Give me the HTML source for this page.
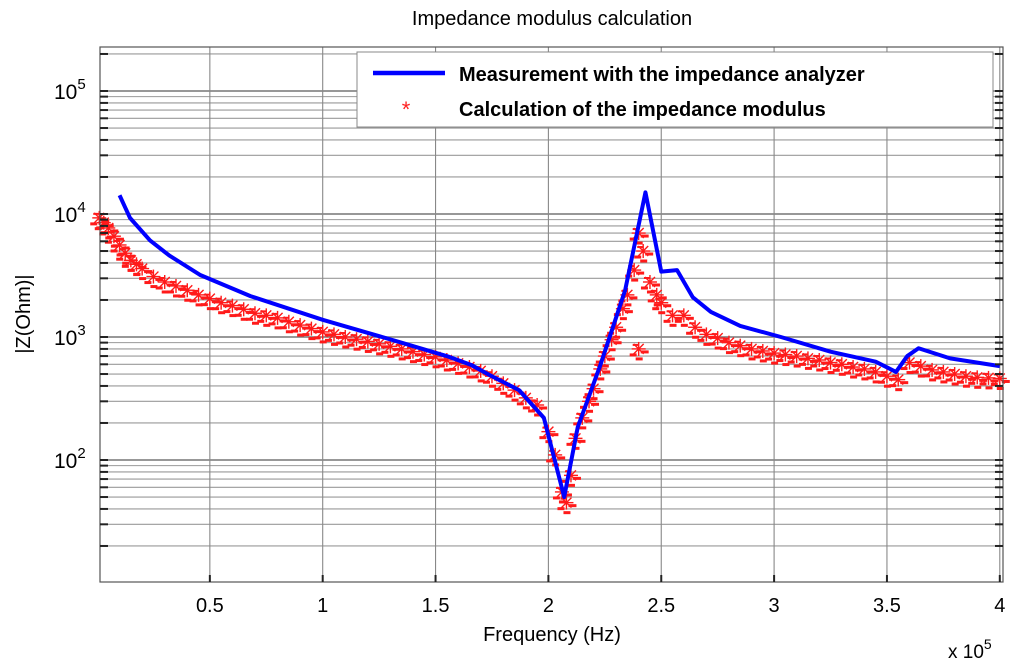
<!DOCTYPE html>
<html><head><meta charset="utf-8"><style>
body{margin:0;background:#fff;}
svg{display:block;font-family:"Liberation Sans",Arial,sans-serif;}
</style></head><body>
<svg id="chart" width="1024" height="667" viewBox="0 0 1024 667" xmlns="http://www.w3.org/2000/svg">
<text x="552" y="25" font-size="20" text-anchor="middle">Impedance modulus calculation</text>
<g id="grid"></g>
<g id="marks"></g>
<rect x="100" y="47" width="903" height="535" fill="none" stroke="#555" stroke-width="1.2"/>
<g id="ticks"></g>
<text x="552" y="641" font-size="20" text-anchor="middle">Frequency (Hz)</text>
<text x="948" y="658" font-size="19">x 10<tspan dy="-9" font-size="14">5</tspan></text>
<text transform="translate(30,314) rotate(-90)" font-size="20" text-anchor="middle">|Z(Ohm)|</text>
<g>
<rect x="357" y="52" width="636" height="75" fill="#fff" stroke="#888"/>
<line x1="373" y1="73" x2="445" y2="73" stroke="#0000ff" stroke-width="4.5"/>
<text x="459" y="81" font-size="20" font-weight="bold">Measurement with the impedance analyzer</text>
<text x="406" y="117" font-size="22" fill="#ff2020" text-anchor="middle">*</text>
<text x="459" y="116" font-size="20" font-weight="bold">Calculation of the impedance modulus</text>
</g>
</svg>
<script>
const blueX=[0.10,0.146,0.235,0.32,0.456,0.68,1.0,1.34,1.56,1.66,1.74,1.87,1.98,2.07,2.13,2.23,2.34,2.43,2.50,2.57,2.64,2.72,2.85,3.03,3.25,3.45,3.54,3.59,3.64,3.78,4.0];
const blueY=[14200,9300,6100,4600,3200,2150,1380,910,690,590,490,370,220,50,185,590,2400,15000,3400,3500,2100,1600,1230,1000,760,630,520,700,810,670,580];
const redX=[0.01,0.03,0.05,0.075,0.1,0.125,0.15,0.175,0.2,0.25,0.3,0.35,0.4,0.45,0.5,0.55,0.6,0.65,0.7,0.75,0.8,0.85,0.9,0.95,1.0,1.05,1.1,1.15,1.2,1.25,1.3,1.35,1.4,1.45,1.5,1.55,1.6,1.65,1.7,1.75,1.8,1.85,1.9,1.95,2.0,2.03,2.06,2.08,2.1,2.12,2.15,2.18,2.2,2.23,2.25,2.28,2.3,2.33,2.35,2.38,2.4,2.42,2.45,2.48,2.5,2.55,2.6,2.65,2.7,2.75,2.8,2.85,2.9,2.95,3.0,3.05,3.1,3.15,3.2,3.25,3.3,3.35,3.4,3.45,3.5,3.55,3.6,3.65,3.7,3.75,3.8,3.85,3.9,3.95,4.0,2.4];
const redY=[9300,8500,7700,6600,5600,4800,4200,3900,3600,3100,2800,2600,2400,2200,2050,1900,1800,1680,1560,1500,1430,1330,1250,1170,1100,1050,1000,960,920,880,840,800,760,720,690,650,610,570,530,480,420,370,320,280,170,110,55,45,75,150,220,300,380,550,700,950,1200,1700,2200,3500,7000,5000,2800,2200,1900,1500,1500,1200,1050,980,900,850,800,770,740,720,700,670,650,620,600,570,550,520,480,450,620,580,540,520,500,480,470,465,460,800];
const xTicks=[0.5,1,1.5,2,2.5,3,3.5,4];
const xTickLabels=["0.5","1","1.5","2","2.5","3","3.5","4"];
const yDecades=[2,3,4,5];
const NS="http://www.w3.org/2000/svg";
const L=100,R=1003,T=47,B=582;
function sx(v){return 97+(v)*225.7;}
function sy(v){return 460-(Math.log10(v)-2)*123;}
function mk(tag,attrs,parent){const e=document.createElementNS(NS,tag);for(const k in attrs)e.setAttribute(k,attrs[k]);parent.appendChild(e);return e;}
const grid=document.getElementById('grid'),ticks=document.getElementById('ticks'),marks=document.getElementById('marks');
for(let d=1;d<=5;d++){for(let m=1;m<10;m++){const v=m*Math.pow(10,d);const y=sy(v);if(y<T||y>B)continue;
const g=mk('line',{x1:L,x2:R,y1:y,y2:y,stroke:m===1?'#777':'#999','stroke-width':m===1?1.4:1.1},grid);


mk('line',{x1:L,x2:L+8,y1:y,y2:y,stroke:'#222','stroke-width':2},ticks);
mk('line',{x1:R-8,x2:R,y1:y,y2:y,stroke:'#222','stroke-width':2},ticks);}}
yDecades.forEach(d=>{const y=sy(Math.pow(10,d));const t=mk('text',{x:54,y:y+8,'font-size':21},ticks);


t.innerHTML='10<tspan dy="-10" font-size="15">'+d+'</tspan>';});
xTicks.forEach((v,i)=>{const x=sx(v);const g=mk('line',{x1:x,x2:x,y1:T,y2:B,stroke:'#888','stroke-width':1.1},grid);


mk('line',{x1:x,x2:x,y1:B-7,y2:B,stroke:'#222','stroke-width':2},ticks);
const t=mk('text',{x:x,y:612,'font-size':20,'text-anchor':'middle'},ticks);


t.textContent=xTickLabels[i];});
redX.forEach((v,i)=>{const x=sx(v),y=sy(redY[i]);const g=mk('g',{stroke:'#ff1a1a','stroke-width':1.4},marks);


[[-7,0,7,0],[0,-7,0,7],[-5,-5,5,5],[-5,5,5,-5]].forEach(s=>mk('line',{x1:x+s[0],y1:y+s[1],x2:x+s[2],y2:y+s[3]},g));
mk('line',{x1:x-9,y1:y+6,x2:x-2,y2:y+6,'stroke-width':3},g);
mk('line',{x1:x+2,y1:y+3,x2:x+10,y2:y+3,'stroke-width':3},g);
mk('line',{x1:x-3,y1:y+10,x2:x+4,y2:y+10,'stroke-width':3},g);
mk('line',{x1:x-6,y1:y-4,x2:x,y2:y-4,'stroke-width':2},g);});
const pts=blueX.map((v,i)=>sx(v)+','+sy(blueY[i])).join(' ');
const pl=mk('polyline',{points:pts,fill:'none',stroke:'#0000ff','stroke-width':4,'stroke-linejoin':'round'},marks);


</script>
</body></html>
